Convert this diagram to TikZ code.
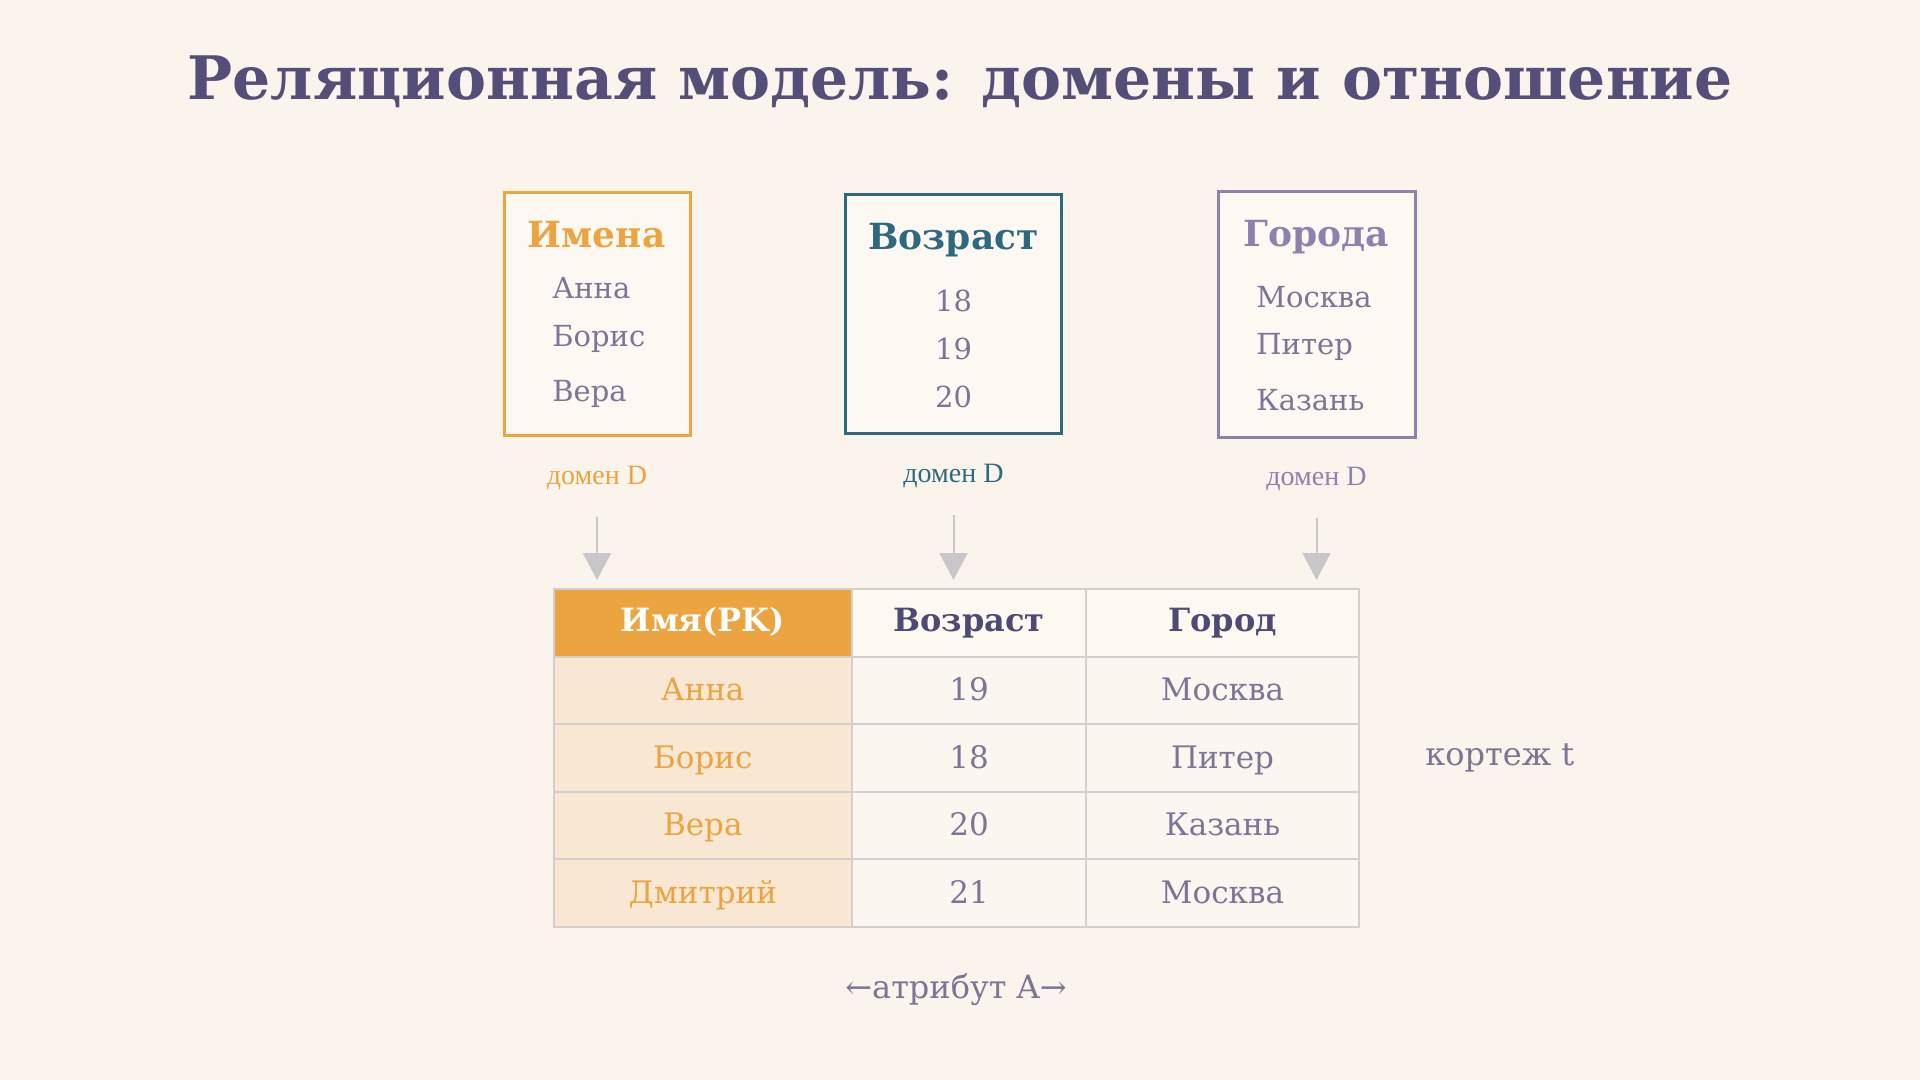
\documentclass[tikz,border=0pt]{standalone}
\usepackage{fontspec}
\setmainfont{DejaVu Serif}
\newfontfamily\labelfont{Liberation Serif}
\usetikzlibrary{arrows.meta}
\definecolor{bgcol}{HTML}{FAF4EC}
\definecolor{boxfill}{HTML}{FDF8F1}
\definecolor{titlecol}{HTML}{544E78}
\definecolor{orangecol}{HTML}{EBA43F}
\definecolor{tealcol}{HTML}{2E6A7F}
\definecolor{purplecol}{HTML}{8F81AD}
\definecolor{itemcol}{HTML}{7C7596}
\definecolor{headtext}{HTML}{4F4A75}
\definecolor{gridcol}{HTML}{D3CFCF}
\definecolor{namefill}{HTML}{F8E7D2}
\definecolor{headfill}{HTML}{FDF8F0}
\definecolor{cellfill}{HTML}{FBF6EF}
\definecolor{arrowcol}{HTML}{C9C6CA}

\begin{document}
\begin{tikzpicture}[x=0.5pt,y=-0.5pt,
    dombox/.style={line width=1.5pt,fill=boxfill,inner sep=0pt,outer sep=0pt},
    boxtitle/.style={font=\bfseries\fontsize{18}{22}\selectfont,anchor=base,inner sep=0pt},
    item/.style={text=itemcol,font=\fontsize{14.5}{18}\selectfont,inner sep=0pt},
    domlabel/.style={font=\labelfont\fontsize{14}{16}\selectfont,anchor=base,inner sep=0pt},
    domarrow/.style={arrowcol,line width=1pt,-{Triangle[length=13.5pt,width=14pt]},shorten <=13.5pt,shorten >=4.5pt},
    cell/.style={draw=gridcol,line width=1pt,inner sep=0pt,outer sep=0pt,minimum height=33.75pt,text height=1.03em,text depth=0pt,font=\fontsize{15.5}{18}\selectfont},
    headcell/.style={cell,text height=0.88em,font=\bfseries\fontsize{16}{20}\selectfont}]
        \fill[bgcol] (0,0) rectangle (1920,1080);
        \useasboundingbox (0,0) rectangle (1920,1080);
        \node[text=titlecol,font=\bfseries\fontsize{30}{36}\selectfont,anchor=base] (title) at (960,100) {Реляционная модель: домены и отношение};
        \node[dombox,draw=orangecol,minimum width=92.75pt,minimum height=121.5pt] (names) at (597.25,314.25) {};
        \node[dombox,draw=tealcol,minimum width=108pt,minimum height=119pt] (ages) at (953.75,314) {};
        \node[dombox,draw=purplecol,minimum width=98.5pt,minimum height=122.5pt] (cities) at (1316.5,314.5) {};
        \node[boxtitle,text=orangecol] (namestitle) at (596.5,248) {Имена};
        \node[boxtitle,text=tealcol] (agestitle) at (953.5,250) {Возраст};
        \node[boxtitle,text=purplecol] (citiestitle) at (1316.5,247) {Города};
        \node[item,anchor=base west] (n1) at (552,299) {Анна};
        \node[item,anchor=base west] (n2) at (552,347) {Борис};
        \node[item,anchor=base west] (n3) at (552,401) {Вера};
        \node[item,anchor=base] (a1) at (953.5,312) {18};
        \node[item,anchor=base] (a2) at (953.5,359) {19};
        \node[item,anchor=base] (a3) at (953.5,407) {20};
        \node[item,anchor=base west] (c1) at (1256,308) {Москва};
        \node[item,anchor=base west] (c2) at (1256,355) {Питер};
        \node[item,anchor=base west] (c3) at (1256,410) {Казань};
        \node[domlabel,text=orangecol] (dlab1) at (597,484) {домен D};
        \node[domlabel,text=tealcol] (dlab2) at (953.5,482) {домен D};
        \node[domlabel,text=purplecol] (dlab3) at (1316.5,485) {домен D};
        \node[headcell,fill=orangecol,text=white,minimum width=149.25pt] (hdr1) at (702.75,622.75) {Имя(PK)};
        \node[headcell,fill=headfill,text=headtext,minimum width=117pt] (hdr2) at (969,622.75) {Возраст};
        \node[headcell,fill=headfill,text=headtext,minimum width=136.5pt] (hdr3) at (1222.5,622.75) {Город};
        \node[cell,fill=namefill,text=orangecol,minimum width=149.25pt] (r1c1) at (702.75,690.25) {Анна};
        \node[cell,fill=cellfill,text=itemcol,minimum width=117pt] (r1c2) at (969,690.25) {19};
        \node[cell,fill=cellfill,text=itemcol,minimum width=136.5pt] (r1c3) at (1222.5,690.25) {Москва};
        \node[cell,fill=namefill,text=orangecol,minimum width=149.25pt] (r2c1) at (702.75,757.75) {Борис};
        \node[cell,fill=cellfill,text=itemcol,minimum width=117pt] (r2c2) at (969,757.75) {18};
        \node[cell,fill=cellfill,text=itemcol,minimum width=136.5pt] (r2c3) at (1222.5,757.75) {Питер};
        \node[cell,fill=namefill,text=orangecol,minimum width=149.25pt] (r3c1) at (702.75,825.25) {Вера};
        \node[cell,fill=cellfill,text=itemcol,minimum width=117pt] (r3c2) at (969,825.25) {20};
        \node[cell,fill=cellfill,text=itemcol,minimum width=136.5pt] (r3c3) at (1222.5,825.25) {Казань};
        \node[cell,fill=namefill,text=orangecol,minimum width=149.25pt] (r4c1) at (702.75,892.75) {Дмитрий};
        \node[cell,fill=cellfill,text=itemcol,minimum width=117pt] (r4c2) at (969,892.75) {21};
        \node[cell,fill=cellfill,text=itemcol,minimum width=136.5pt] (r4c3) at (1222.5,892.75) {Москва};
        \draw[domarrow] (dlab1.south) -- (dlab1.south |- hdr1.north);
        \draw[domarrow] (dlab2.south) -- (dlab2.south |- hdr2.north);
        \draw[domarrow] (dlab3.south) -- (dlab3.south |- hdr3.north);
        \node[text=itemcol,font=\fontsize{16}{18}\selectfont,anchor=base west,inner sep=0pt] (tuple) at (1425,765) {кортеж t};
        \node[text=itemcol,font=\fontsize{16}{18}\selectfont,anchor=base] (attr) at (956,998) {←атрибут A→};
\end{tikzpicture}
\end{document}
